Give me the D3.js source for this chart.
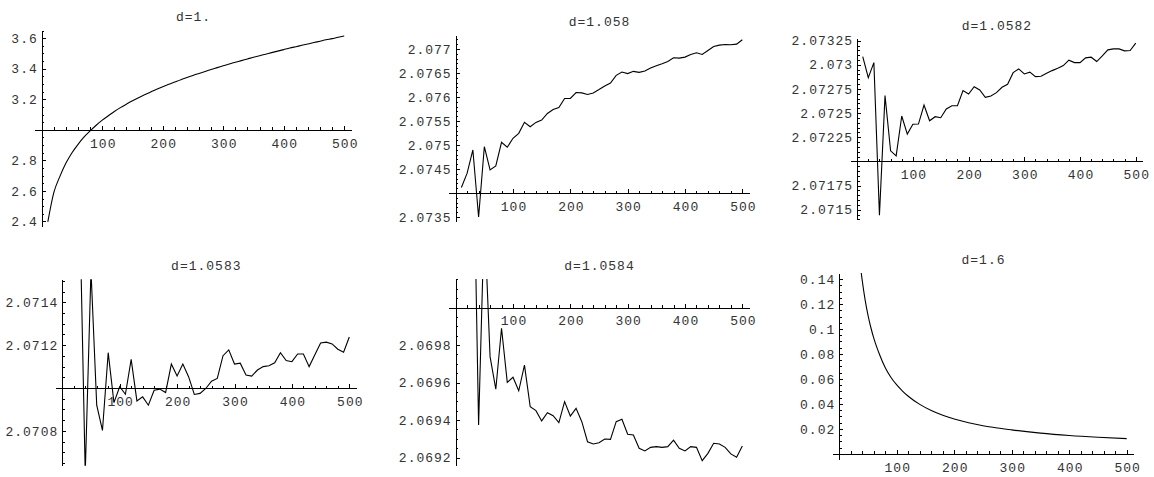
<!DOCTYPE html>
<html><head><meta charset="utf-8">
<script src="https://cdn.jsdelivr.net/npm/d3@7"></script>
<style>
html,body{margin:0;padding:0;background:#fff;}
svg{display:block;}
text{font-family:"Liberation Mono","Courier New",monospace;fill:#333;}
</style></head><body>
<svg id="chart" width="1154" height="477"></svg>
<script>
// ---- data ----
const steps = [10,20,30,40,50,60,70,80,90,100,110,120,130,140,150,160,170,180,190,200,210,220,230,240,250,260,270,280,290,300,310,320,330,340,350,360,370,380,390,400,410,420,430,440,450,460,470,480,490,500];
const stepsFrom30 = [30,40,50,60,70,80,90,100,110,120,130,140,150,160,170,180,190,200,210,220,230,240,250,260,270,280,290,300,310,320,330,340,350,360,370,380,390,400,410,420,430,440,450,460,470,480,490,500];

const valuesD1 = [2.397,2.59,2.695,2.782,2.85,2.905,2.953,2.993,3.03,3.063,3.092,3.12,3.145,3.168,3.19,3.21,3.229,3.247,3.265,3.282,3.298,3.313,3.328,3.342,3.356,3.369,3.382,3.395,3.407,3.419,3.431,3.442,3.453,3.464,3.475,3.485,3.495,3.505,3.515,3.525,3.535,3.544,3.553,3.562,3.571,3.58,3.589,3.597,3.606,3.614];

const valuesD1058 = [2.074116,2.074414,2.074897,2.073503,2.074965,2.074483,2.074565,2.075056,2.074953,2.075139,2.075243,2.075471,2.075380,2.075471,2.075518,2.075657,2.075740,2.075781,2.075968,2.075968,2.076092,2.076085,2.076051,2.076084,2.076154,2.076229,2.076291,2.076450,2.076519,2.076486,2.076533,2.076512,2.076539,2.076602,2.076651,2.076693,2.076740,2.076817,2.076809,2.076829,2.076885,2.076920,2.076885,2.076968,2.077051,2.077078,2.077092,2.077085,2.077099,2.077190];

const valuesD10582 = [2.073086,2.072868,2.073023,2.071443,2.072681,2.072110,2.072058,2.072470,2.072283,2.072384,2.072387,2.072584,2.072421,2.072463,2.072452,2.072543,2.072577,2.072577,2.072733,2.072698,2.072774,2.072740,2.072664,2.072678,2.072712,2.072768,2.072799,2.072919,2.072958,2.072906,2.072924,2.072878,2.072882,2.072913,2.072940,2.072965,2.072992,2.073048,2.073023,2.073023,2.073072,2.073079,2.073034,2.073093,2.073155,2.073165,2.073165,2.073145,2.073148,2.073225];

const valuesD10583 = [2.0719,2.0706,2.07155,2.070920,2.070802,2.071165,2.070932,2.071006,2.070971,2.071134,2.070940,2.070959,2.070920,2.070990,2.070995,2.070979,2.071112,2.071056,2.071112,2.071053,2.070970,2.070975,2.070998,2.071032,2.071045,2.071151,2.071178,2.071112,2.071116,2.071061,2.071056,2.071084,2.071100,2.071104,2.071118,2.071165,2.071128,2.071123,2.071159,2.071159,2.071100,2.071155,2.071210,2.071214,2.071206,2.071181,2.071167,2.071238];

const valuesD10584 = [2.07106,2.069373,2.070486,2.069738,2.069564,2.069889,2.069601,2.069628,2.069556,2.069693,2.069471,2.069450,2.069395,2.069439,2.069423,2.069386,2.069498,2.069421,2.069462,2.069391,2.069284,2.069272,2.069279,2.069299,2.069297,2.069391,2.069404,2.069324,2.069320,2.069249,2.069235,2.069254,2.069258,2.069254,2.069258,2.069293,2.069249,2.069235,2.069258,2.069254,2.069183,2.069222,2.069276,2.069272,2.069254,2.069219,2.069201,2.069261];

const stepsD16 = [30,35,40,45,50,55,60,70,80,90,100,110,120,140,160,180,200,225,250,275,300,350,400,450,500];
const valuesD16 = [0.184,0.158,0.1385,0.1232,0.111,0.101,0.0927,0.0796,0.0690,0.0612,0.0552,0.0503,0.0461,0.0396,0.0347,0.0309,0.0279,0.0249,0.0225,0.0207,0.0192,0.0166,0.0147,0.0133,0.0122];

const titles = ["d=1.","d=1.058","d=1.0582","d=1.0583","d=1.0584","d=1.6"];
const xTickValues = [100,200,300,400,500];
const xTickLabels = ["100","200","300","400","500"];
const yTicksD1 = [2.4,2.6,2.8,3.2,3.4,3.6];
const yLabelsD1 = ["2.4","2.6","2.8","3.2","3.4","3.6"];
const yTicksD1058 = [2.0735,2.0745,2.075,2.0755,2.076,2.0765,2.077];
const yLabelsD1058 = ["2.0735","2.0745","2.075","2.0755","2.076","2.0765","2.077"];
const yTicksD10582 = [2.0715,2.07175,2.07225,2.0725,2.07275,2.073,2.07325];
const yLabelsD10582 = ["2.0715","2.07175","2.07225","2.0725","2.07275","2.073","2.07325"];
const yTicksD10583 = [2.0708,2.0712,2.0714];
const yLabelsD10583 = ["2.0708","2.0712","2.0714"];
const yTicksD10584 = [2.0692,2.0694,2.0696,2.0698];
const yLabelsD10584 = ["2.0692","2.0694","2.0696","2.0698"];
const yTicksD16 = [0.02,0.04,0.06,0.08,0.1,0.12,0.14];
const yLabelsD16 = ["0.02","0.04","0.06","0.08","0.1","0.12","0.14"];

// ---- layout (pixels / ranges) ----
const panels = [
  {title:titles[0], xs:steps, ys:valuesD1, smooth:true,
   xr:[34.2,351.8], yr:[226.65,30.35], yd:[2.366,3.651], oy:3.0,
   yt:yTicksD1, yl:yLabelsD1, yMinor:0.05, yMajor:0.2},
  {title:titles[1], xs:steps, ys:valuesD1058, smooth:false,
   xr:[448.5,749.5], yr:[221.35,35.35], yd:[2.073411,2.077282], oy:2.074,
   yt:yTicksD1058, yl:yLabelsD1058, yMinor:0.0001, yMajor:0.0005},
  {title:titles[2], xs:steps, ys:valuesD10582, smooth:false,
   xr:[850.2,1142.7], yr:[219.55,38.75], yd:[2.071398,2.07327], oy:2.072,
   yt:yTicksD10582, yl:yLabelsD10582, yMinor:0.00005, yMajor:0.00025},
  {title:titles[3], xs:stepsFrom30, ys:valuesD10583, smooth:false,
   xr:[55.1,356.5], yr:[465.65,279.35], yd:[2.070638,2.071507], oy:2.071,
   yt:yTicksD10583, yl:yLabelsD10583, yMinor:0.00005, yMajor:0.0002},
  {title:titles[4], xs:stepsFrom30, ys:valuesD10584, smooth:false,
   xr:[448.5,749.5], yr:[465,279], yd:[2.069160,2.070152], oy:2.07,
   yt:yTicksD10584, yl:yLabelsD10584, yMinor:0.00005, yMajor:0.0002},
  {title:titles[5], xs:stepsD16, ys:valuesD16, smooth:true,
   xr:[832.1,1133.9], yr:[459.5,273], yd:[-0.00454,0.14486], oy:0,
   yt:yTicksD16, yl:yLabelsD16, yMinor:0.005, yMajor:0.02}
];

const svg = d3.select("#chart");
const FONT = 13, LS = 1;
const MAJ = 4, MIN = 2.5;

panels.forEach((p, i) => {
  const x = d3.scaleLinear().domain([-12.5, 512.5]).range(p.xr);
  const y = d3.scaleLinear().domain(p.yd).range(p.yr);
  const g = svg.append("g");

  const clipId = "clip" + i;
  svg.append("clipPath").attr("id", clipId).append("rect")
    .attr("x", p.xr[0]).attr("y", p.yr[1])
    .attr("width", p.xr[1]-p.xr[0]).attr("height", p.yr[0]-p.yr[1]);

  // x axis (ticks point up, labels below)
  const xMinor = d3.range(20, 501, 20).filter(v => v % 100 !== 0);
  const gx = g.append("g").attr("transform", `translate(0,${y(p.oy)})`);
  gx.call(d3.axisBottom(x).tickValues(xMinor).tickSize(-MIN).tickSizeOuter(0).tickFormat(""));
  const gx2 = g.append("g").attr("transform", `translate(0,${y(p.oy)})`);
  gx2.call(d3.axisBottom(x).tickValues(xTickValues).tickSize(-MAJ).tickSizeOuter(0).tickPadding(8.5)
    .tickFormat((d, k) => xTickLabels[k]));
  gx2.selectAll(".tick text").attr("dx", LS/2);

  // y axis (ticks point right, labels left)
  const lo = Math.ceil(p.yd[0]/p.yMinor - 1e-6), hi = Math.floor(p.yd[1]/p.yMinor + 1e-6);
  const yMinorTicks = d3.range(lo, hi+1).map(k => +(k*p.yMinor).toFixed(8))
    .filter(v => Math.abs(v/p.yMajor - Math.round(v/p.yMajor)) > 1e-6);
  const yMajorTicks = d3.range(Math.ceil(p.yd[0]/p.yMajor - 1e-6), Math.floor(p.yd[1]/p.yMajor + 1e-6)+1)
    .map(k => +(k*p.yMajor).toFixed(8));
  const gy = g.append("g").attr("transform", `translate(${x(0)},0)`);
  gy.call(d3.axisLeft(y).tickValues(yMinorTicks).tickSize(-MIN).tickSizeOuter(0).tickFormat(""));
  const gy2 = g.append("g").attr("transform", `translate(${x(0)},0)`);
  gy2.call(d3.axisLeft(y).tickValues(yMajorTicks).tickSize(-MAJ).tickSizeOuter(0).tickPadding(4)
    .tickFormat(d => { const k = p.yt.findIndex(t => Math.abs(t-d) < 1e-9); return k >= 0 ? p.yl[k] : ""; }));

  g.selectAll(".domain").attr("stroke","#000").attr("stroke-width",1).attr("shape-rendering","crispEdges");
  g.selectAll(".tick line").attr("stroke","#000").attr("stroke-width",1).attr("shape-rendering","crispEdges");
  g.selectAll(".tick text").attr("font-size", FONT).attr("fill","#333")
    .attr("letter-spacing", LS)
    .attr("font-family",'"Liberation Mono","Courier New",monospace');

  // title
  g.append("text").attr("x", (p.xr[0]+p.xr[1])/2 + LS/2).attr("y", p.yr[1]-12.5)
    .attr("text-anchor","middle").attr("dominant-baseline","central")
    .attr("letter-spacing", LS)
    .attr("font-size", FONT).text(p.title);

  // data line
  const line = d3.line().x(d => x(d[0])).y(d => y(d[1]))
    .curve(p.smooth ? d3.curveMonotoneX : d3.curveLinear);
  g.append("path").datum(p.xs.map((v, k) => [v, p.ys[k]]))
    .attr("clip-path", `url(#${clipId})`)
    .attr("fill","none").attr("stroke","#000").attr("stroke-width",1.1)
    .attr("stroke-linejoin","miter").attr("d", line);
});
</script>
</body></html>
